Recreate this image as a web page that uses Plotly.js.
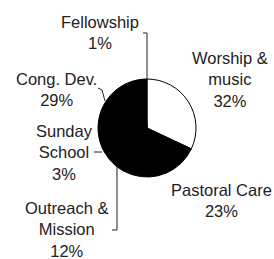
<!DOCTYPE html>
<html>
<head>
<meta charset="utf-8">
<script src="https://cdn.plot.ly/plotly-3.0.1.min.js"></script>
<style>html,body{margin:0;padding:0;background:#fff;}#chart{width:274px;height:259px;}</style>
</head>
<body>
<div id="chart"></div>
<script>
// Data
const categories = ["Worship & music", "Pastoral Care", "Outreach & Mission", "Sunday School", "Cong. Dev.", "Fellowship"];
const displayLabels = ["Worship &<br>music", "Pastoral Care", "Outreach &<br>Mission", "Sunday<br>School", "Cong. Dev.", "Fellowship"];
const percentages = [32, 23, 12, 3, 29, 1];
const sliceColors = ["#ffffff", "#000000", "#000000", "#000000", "#000000", "#000000"];

// Layout helpers (pixel -> paper)
const W = 274, H = 259;
const px = v => v / W;
const py = v => 1 - v / H;

// Label block centres in pixels (layout only)
const labelPos = [
  [230, 79], [221, 200.5], [66, 229], [64, 152], [56, 89], [100, 33]
];

const annotations = categories.map((c, i) => ({
  text: displayLabels[i] + "<br>" + percentages[i] + "%",
  x: px(labelPos[i][0]), y: py(labelPos[i][1]),
  xref: "paper", yref: "paper",
  xanchor: "center", yanchor: "middle",
  showarrow: false, align: "center",
  font: {family: "Liberation Sans, Arial, sans-serif", size: 16.5, color: "#222"}
}));

function pathOf(pts) {
  return pts.map((p, i) => (i ? "L" : "M") + px(p[0]).toFixed(4) + "," + py(p[1]).toFixed(4)).join(" ");
}
const leaders = [
  [[143, 33], [147, 33], [147, 79]],
  [[98, 88], [102, 90], [105, 101]],
  [[94, 152], [102, 152]],
  [[112, 230], [117, 230], [117, 167]]
];
const shapes = leaders.map(pts => ({
  type: "path", xref: "paper", yref: "paper", path: pathOf(pts),
  line: {color: "#222", width: 1}
}));

const trace = {
  type: "pie",
  labels: categories,
  values: percentages,
  sort: false,
  direction: "clockwise",
  rotation: 0,
  textinfo: "none",
  hoverinfo: "label+percent",
  marker: {colors: sliceColors, line: {color: "#000", width: 1}},
  domain: {x: [px(98), px(196)], y: [py(177), py(79)]},
  showlegend: false
};

const layout = {
  width: W, height: H,
  margin: {l: 0, r: 0, t: 0, b: 0},
  paper_bgcolor: "#fff", plot_bgcolor: "#fff",
  showlegend: false,
  annotations: annotations,
  shapes: shapes
};

Plotly.newPlot("chart", [trace], layout, {staticPlot: true, displayModeBar: false});
</script>
</body>
</html>
